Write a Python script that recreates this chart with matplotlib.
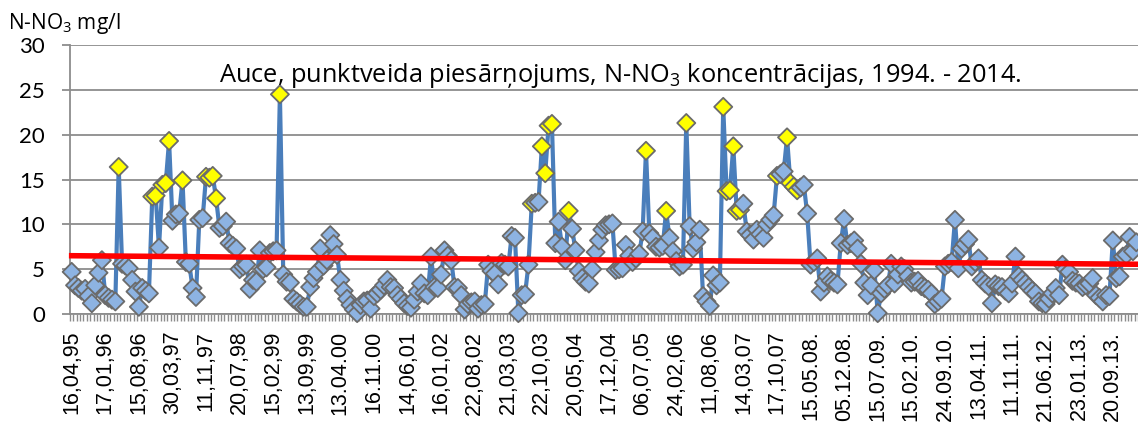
import numpy as np
import matplotlib.pyplot as plt

# N-NO3 concentration per sample, in sample order (mg/l)
nitrate = [
    4.7, 3.2, 2.9, 2.6, 2.8, 2.0, 1.2, 3.2, 4.6, 6.0,
    2.1, 1.8, 1.6, 1.4, 16.4, 5.6, 5.4, 5.1, 3.8, 2.5,
    0.8, 2.9, 2.6, 2.3, 13.1, 13.2, 7.4, 14.4, 14.6, 19.3,
    10.4, 11.1, 11.2, 14.9, 5.8, 5.6, 2.9, 1.9, 10.5, 10.7,
    15.3, 15.2, 15.4, 12.9, 9.6, 9.8, 10.3, 7.9, 7.6, 7.3,
    5.0, 5.3, 5.5, 2.8, 3.8, 3.6, 7.1, 5.0, 5.2, 6.8,
    7.0, 7.1, 24.5, 4.4, 3.6, 3.5, 1.7, 1.4, 1.1, 0.8,
    0.8, 3.0, 4.0, 4.7, 7.3, 5.4, 6.0, 8.8, 7.8, 6.6,
    3.8, 2.6, 1.7, 1.0, 0.5, 0.1, 1.0, 1.4, 1.5, 0.6,
    2.0, 2.3, 2.7, 3.2, 3.8, 3.0, 2.9, 2.1, 1.7, 1.2,
    0.9, 0.7, 1.6, 2.5, 3.4, 2.3, 2.1, 6.4, 3.0, 2.9,
    4.4, 7.1, 6.5, 6.0, 3.0, 2.9, 2.1, 0.5, 1.1, 1.3,
    1.4, 0.6, 1.0, 1.1, 5.5, 4.8, 4.5, 3.3, 5.7, 5.5,
    5.3, 8.7, 8.5, 0.1, 2.1, 2.2, 5.5, 12.3, 12.4, 12.5,
    18.7, 15.7, 21.0, 21.2, 7.9, 10.3, 7.5, 6.0, 11.5, 9.5,
    7.1, 4.8, 4.0, 3.6, 3.4, 5.0, 6.9, 8.2, 9.4, 9.9,
    10.0, 10.1, 4.9, 5.0, 5.1, 7.7, 6.5, 5.8, 6.2, 6.7,
    9.2, 18.2, 9.0, 8.5, 7.5, 7.4, 7.6, 11.5, 8.5, 7.0,
    5.9, 5.3, 5.5, 21.3, 9.8, 7.3, 8.0, 9.4, 2.0, 1.4,
    0.9, 4.3, 3.2, 3.5, 23.1, 13.7, 13.8, 18.7, 11.5, 11.6,
    12.3, 9.2, 8.8, 8.3, 9.4, 8.9, 8.5, 10.0, 10.5, 11.0,
    15.4, 15.6, 15.9, 19.7, 14.6, 14.2, 13.8, 14.1, 14.4, 11.2,
    5.5, 5.8, 6.2, 2.5, 3.5, 4.2, 3.7, 3.5, 3.3, 7.9,
    10.6, 7.7, 7.9, 8.2, 7.3, 5.6, 3.5, 2.1, 3.2, 4.9,
    0.1, 2.3, 2.8, 3.2, 5.6, 3.4, 4.4, 5.3, 5.0, 4.2,
    3.5, 3.6, 3.7, 3.1, 2.9, 2.7, 2.3, 1.1, 1.4, 1.7,
    5.3, 5.6, 5.8, 10.5, 5.1, 7.3, 7.8, 8.3, 5.3, 5.8,
    6.2, 3.8, 3.4, 3.1, 1.2, 3.3, 3.1, 3.0, 2.6, 2.3,
    3.4, 6.4, 4.2, 3.8, 3.4, 3.0, 2.6, 2.3, 1.4, 1.2,
    1.1, 1.7, 2.3, 2.9, 2.1, 5.5, 5.0, 4.7, 3.7, 3.5,
    3.4, 3.0, 3.2, 3.4, 4.0, 2.1, 1.8, 1.4, 2.1, 2.0,
    8.2, 4.0, 4.2, 6.4, 6.6, 8.6, 7.0, 8.0,
]

# samples highlighted with yellow markers
yellow_idx = [14, 24, 25, 27, 28, 29, 33, 40, 41, 42, 43, 62, 137, 140, 141,
              142, 143, 148, 171, 177, 183, 194, 195, 196, 197, 198, 199,
              210, 213, 214, 215, 216]

# every 10th sample carries a date label
date_labels = ["16,04,95", "17,01,96", "15,08,96", "30,03,97", "11,11,97",
               "20,07,98", "15,02,99", "13,09,99", "13.04.00", "16.11.00",
               "14,06,01", "16,01,02", "22,08,02", "21,03,03", "22,10,03",
               "20,05,04", "17,12,04", "06,07,05", "24,02,06", "11,08,06",
               "14,03,07", "17,10,07", "15.05.08.", "05.12.08.", "15.07.09.",
               "15.02.10.", "24.09.10.", "13.04.11.", "11.11.11.", "21.06.12.",
               "23.01.13.", "20.09.13."]
label_step = 10

# linear trend
trend_intercept = 6.5
trend_slope = -0.003

plt.rcParams['mathtext.default'] = 'regular'
plt.rcParams['font.family'] = 'Open Sans'

fig = plt.figure(figsize=(11.38, 4.26), dpi=100)
ax = fig.add_axes([70 / 1138, 1 - 314 / 426, 1 - 70 / 1138, (314 - 45) / 426])

x = np.arange(len(nitrate))
ax.plot(x, nitrate, color='#4A7EBB', lw=3, zorder=2, solid_joinstyle='round',
        clip_on=False)
face = ['#FFFF00' if i in yellow_idx else '#8DB3E2' for i in x]
ax.scatter(x, nitrate, marker='D', s=85, c=face, edgecolors='#6B6B6B',
           linewidths=1.3, zorder=3, clip_on=False)
ax.plot(x, trend_intercept + trend_slope * x, color='#FF0000', lw=4,
        zorder=4, clip_on=False)

ax.set_xlim(-0.5, 316.4)
ax.set_ylim(0, 30)
ax.set_yticks(range(0, 31, 5))
ax.yaxis.grid(True, color='#8C8C8C', lw=1.3)
ax.set_axisbelow(True)
ax.tick_params(axis='y', length=6, width=1.3, color='#8C8C8C', pad=12,
               labelsize=16)
for lab in ax.get_yticklabels():
    lab.set_fontfamily('Lato')

ax.set_xticks(np.arange(0, len(date_labels) * label_step, label_step))
ax.set_xticklabels(date_labels, rotation=90, fontfamily='Liberation Sans',
                   fontsize=15.5)
ax.set_xticks(np.arange(-0.5, len(nitrate), 1), minor=True)
ax.tick_params(axis='x', which='major', length=0, pad=12)
ax.tick_params(axis='x', which='minor', length=5, width=1, color='#8C8C8C')

for side in ['top', 'right']:
    ax.spines[side].set_visible(False)
for side in ['left', 'bottom']:
    ax.spines[side].set_color('#8C8C8C')
    ax.spines[side].set_linewidth(1.3)

fig.text(620 / 1138, 1 - 76 / 426,
         'Auce, punktveida piesārņojums, N-NO$_3$ koncentrācijas, 1994. - 2014.',
         ha='center', va='center', fontsize=18.3)
fig.text(8 / 1138, 1 - 24 / 426, 'N-NO$_3$ mg/l', ha='left', va='center',
         fontsize=15)

fig.savefig('out.png', dpi=100)
